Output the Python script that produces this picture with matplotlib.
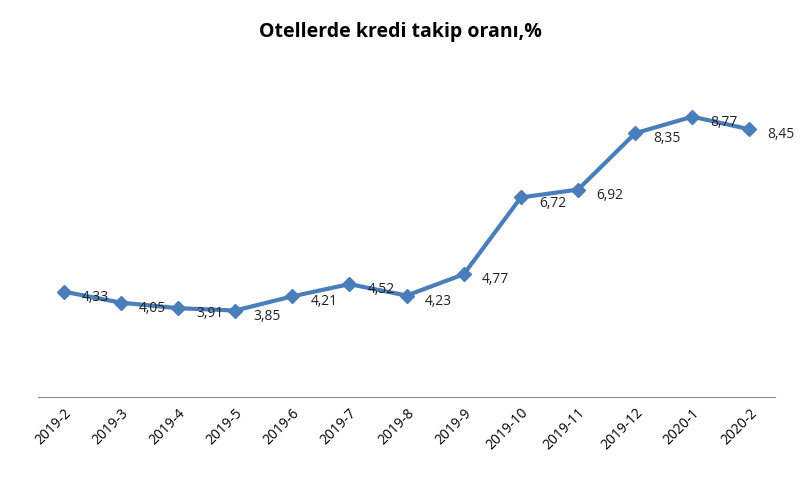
import matplotlib.pyplot as plt

periods = ['2019-2', '2019-3', '2019-4', '2019-5', '2019-6', '2019-7', '2019-8',
           '2019-9', '2019-10', '2019-11', '2019-12', '2020-1', '2020-2']
rates = [4.33, 4.05, 3.91, 3.85, 4.21, 4.52, 4.23, 4.77, 6.72, 6.92, 8.35, 8.77, 8.45]

plt.rcParams['font.family'] = 'Open Sans'

fig = plt.figure(figsize=(8, 4.91), dpi=100)
ax = fig.add_axes([0.0475, 0.191, 0.9215, 0.646])

x = list(range(len(periods)))
ax.plot(x, rates, color='#4a7ebb', linewidth=3, marker='D', markersize=7)

for xi, v in zip(x, rates):
    ax.annotate(f'{v:.2f}'.replace('.', ','), (xi, v), xytext=(13, -4),
                textcoords='offset points', ha='left', va='center',
                fontsize=10, color='#222222')

ax.set_xlim(-0.45, 12.45)
ax.set_ylim(1.65, 9.7)
ax.set_xticks(x)
ax.set_xticklabels(periods, rotation=45, ha='right', rotation_mode='anchor', fontsize=10)
ax.set_yticks([])
for side in ['top', 'right', 'left']:
    ax.spines[side].set_visible(False)
ax.spines['bottom'].set_color('#888888')
ax.tick_params(axis='x', length=0, pad=6)

fig.suptitle('Otellerde kredi takip oranı,%', fontsize=14, fontweight='bold', y=0.955)

fig.savefig('out.png', dpi=100)
